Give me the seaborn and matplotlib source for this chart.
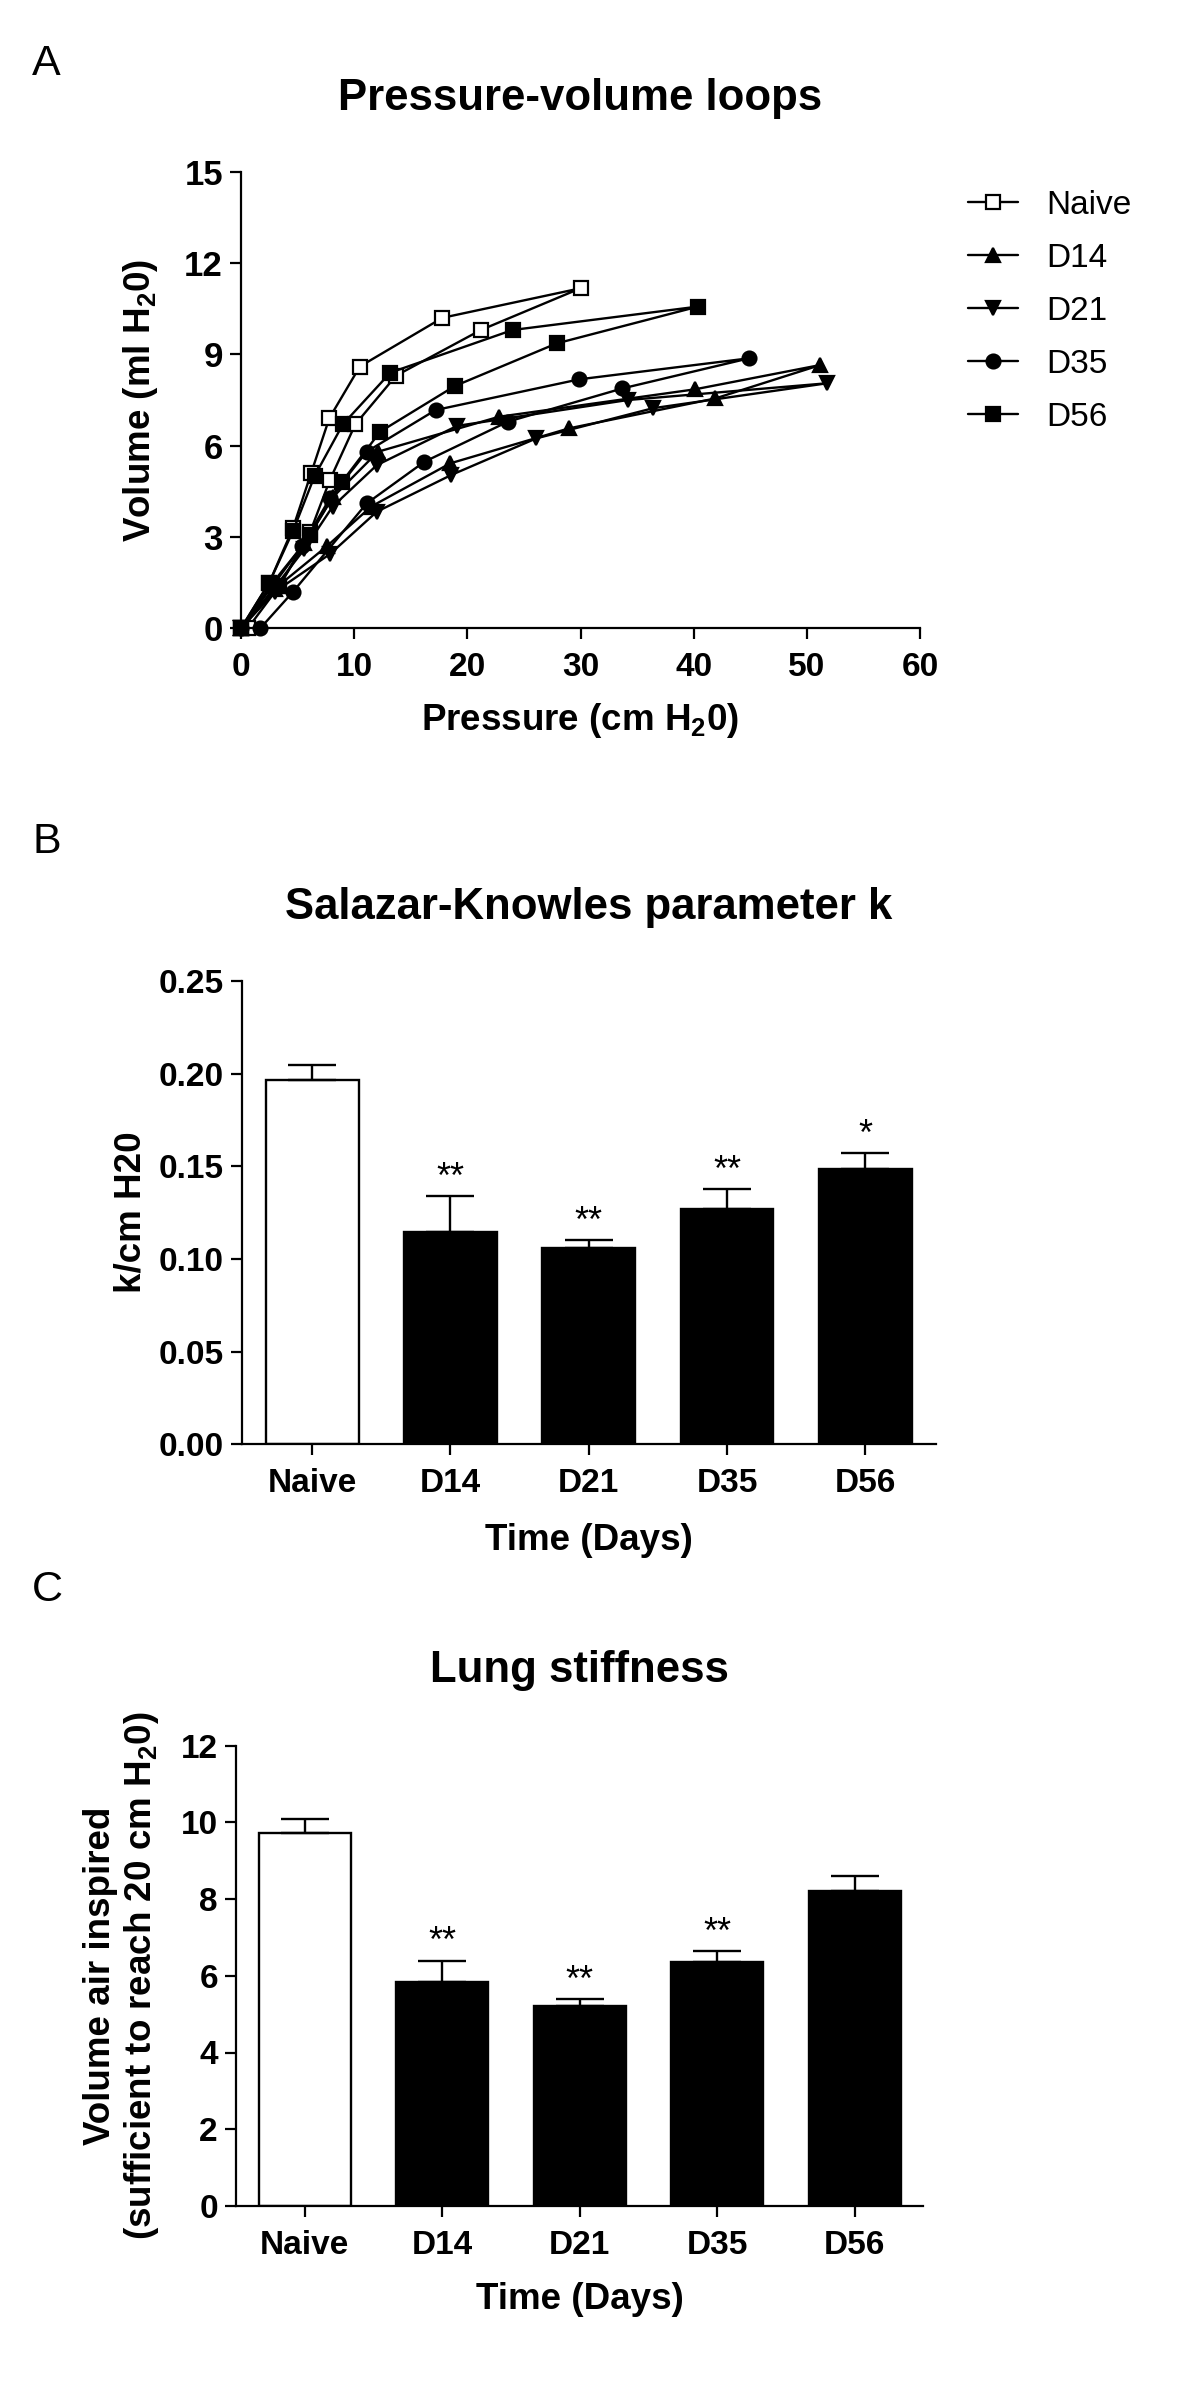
import numpy as np
import pandas as pd
import matplotlib
matplotlib.use("Agg")
import matplotlib.pyplot as plt
import seaborn as sns

# ---------------- Panel A: pressure-volume loops (path order: inflation then deflation)
naive_p = [0.6, 3.4, 6.1, 7.85, 10.1, 13.7, 21.2, 30.0, 17.8, 10.5, 7.8, 6.2, 4.6, 2.5, 0.0]
naive_v = [0.0, 1.4, 3.15, 4.87, 6.7, 8.3, 9.8, 11.17, 10.2, 8.6, 6.9, 5.1, 3.3, 1.5, 0.0]

d14_p = [0.0, 3.0, 7.6, 11.5, 18.5, 29.0, 41.9, 51.2, 40.1, 22.8, 12.1, 8.1, 5.6, 2.8, 0.0]
d14_v = [0.0, 1.3, 2.7, 4.0, 5.42, 6.57, 7.55, 8.65, 7.85, 6.95, 5.8, 4.3, 2.8, 1.4, 0.0]

d21_p = [0.0, 3.0, 7.9, 12.0, 18.6, 26.1, 36.4, 51.8, 34.2, 19.1, 12.0, 8.1, 5.6, 2.9, 0.0]
d21_v = [0.0, 1.2, 2.45, 3.83, 5.04, 6.24, 7.23, 8.05, 7.5, 6.65, 5.36, 4.0, 2.6, 1.3, 0.0]

d35_p = [1.7, 4.6, 11.1, 16.2, 23.6, 33.7, 44.9, 29.9, 17.2, 11.1, 7.85, 5.4, 2.6, 0.0]
d35_v = [0.0, 1.2, 4.1, 5.47, 6.79, 7.88, 8.87, 8.18, 7.17, 5.8, 4.27, 2.7, 1.4, 0.0]

d56_p = [0.0, 3.4, 6.1, 8.9, 12.3, 18.9, 27.9, 40.4, 24.0, 13.2, 9.0, 6.5, 4.6, 2.5, 0.0]
d56_v = [0.0, 1.4, 3.07, 4.8, 6.46, 7.96, 9.36, 10.57, 9.8, 8.4, 6.7, 5.0, 3.2, 1.5, 0.0]

loop_names = ["Naive", "D14", "D21", "D35", "D56"]

# ---------------- Panels B and C: bar data (mean + SEM)
groups = ["Naive", "D14", "D21", "D35", "D56"]
k_mean = [0.1966, 0.1145, 0.1057, 0.1271, 0.1485]
k_sem = [0.0081, 0.0194, 0.0046, 0.0106, 0.0087]
k_stars = ["", "**", "**", "**", "*"]

vol_mean = [9.73, 5.85, 5.21, 6.37, 8.20]
vol_sem = [0.35, 0.54, 0.18, 0.28, 0.39]
vol_stars = ["", "**", "**", "**", ""]

# ---------------- Style
sns.set_theme(style="ticks")
plt.rcParams["font.family"] = ["Liberation Sans", "DejaVu Sans"]
plt.rcParams["font.weight"] = "bold"
plt.rcParams["mathtext.fontset"] = "custom"
plt.rcParams["mathtext.rm"] = "Liberation Sans"
plt.rcParams["mathtext.bf"] = "Liberation Sans:bold"
plt.rcParams["axes.linewidth"] = 1.6
plt.rcParams["axes.edgecolor"] = "black"
plt.rcParams["text.color"] = "black"
plt.rcParams["axes.labelcolor"] = "black"
plt.rcParams["xtick.color"] = "black"
plt.rcParams["ytick.color"] = "black"
plt.rcParams["xtick.labelcolor"] = "black"
plt.rcParams["ytick.labelcolor"] = "black"
plt.rcParams["axes.titlecolor"] = "black"

W, H = 1200, 2389
fig = plt.figure(figsize=(W / 100, H / 100), dpi=100)


def px_axes(left, right, top, bottom):
    return fig.add_axes([left / W, 1 - bottom / H, (right - left) / W, (bottom - top) / H])


def style_axes(ax, ysize=24, xsize=24):
    sns.despine(ax=ax)
    ax.spines["left"].set_linewidth(1.6)
    ax.spines["bottom"].set_linewidth(1.6)
    ax.spines["left"].set_color("black")
    ax.spines["bottom"].set_color("black")
    ax.tick_params(axis="both", direction="out", length=8, width=1.6,
                   color="black", labelcolor="black")
    ax.tick_params(axis="y", labelsize=ysize, pad=5)
    ax.tick_params(axis="x", labelsize=xsize, pad=9)
    for lbl in ax.get_xticklabels() + ax.get_yticklabels():
        lbl.set_fontweight("bold")
    ax.set_facecolor("white")


LW = 1.7

# ---------------- Panel A
axA = px_axes(241, 920, 171.7, 628.3)
loops = [
    ("Naive", naive_p, naive_v, "s", "white", 10.5),
    ("D14", d14_p, d14_v, "^", "black", 10.5),
    ("D21", d21_p, d21_v, "v", "black", 10.5),
    ("D35", d35_p, d35_v, "o", "black", 10),
    ("D56", d56_p, d56_v, "s", "black", 10.5),
]
for name, px, vy, mk, fc, ms in loops:
    sns.lineplot(x=np.array(px), y=np.array(vy), sort=False, estimator=None, ax=axA,
                 color="black", linewidth=LW, marker=mk, markersize=ms,
                 markerfacecolor=fc, markeredgecolor="black", markeredgewidth=1.6,
                 label=name, clip_on=False)
axA.set_xlim(0, 60)
axA.set_ylim(0, 15)
axA.set_xticks(np.arange(0, 61, 10))
axA.set_yticks(np.arange(0, 16, 3))
style_axes(axA, ysize=25, xsize=24)
axA.set_title("Pressure-volume loops", fontsize=31.5, fontweight="bold", pad=44.6)
axA.set_xlabel(r"Pressure (cm H$_\mathbf{2}$0)", fontsize=26.5, fontweight="bold")
axA.set_ylabel(r"Volume (ml H$_\mathbf{2}$0)", fontsize=26.5, fontweight="bold")
axA.xaxis.set_label_coords(0.5, (628.3 - 701) / 456.6)
axA.yaxis.set_label_coords((160 - 241) / 679, 0.5)
handles, labels = axA.get_legend_handles_labels()
axA.legend(handles[:5], labels[:5], loc="upper left",
           bbox_to_anchor=(968 / W, 1 - 190 / H), bbox_transform=fig.transFigure,
           frameon=False, borderpad=0, borderaxespad=0, handlelength=1.5,
           handletextpad=0.86, labelspacing=0.66,
           prop={"size": 24, "weight": "normal"})

# ---------------- Bar panels
bar_palette = {"Naive": "white", "D14": "black", "D21": "black", "D35": "black", "D56": "black"}


def bar_panel(ax, means, sems, stars, ylim, yticks, yfmt):
    df = pd.DataFrame({"group": groups, "value": means})
    sns.barplot(data=df, x="group", y="value", hue="group", palette=bar_palette,
                order=groups, hue_order=groups, saturation=1, width=0.67,
                edgecolor="black", linewidth=LW, errorbar=None, legend=False, ax=ax)
    xs = np.arange(len(groups))
    ax.errorbar(xs, means, yerr=[np.zeros(len(means)), sems], fmt="none",
                ecolor="black", elinewidth=LW, capsize=17, capthick=LW, zorder=3)
    for x, m, s, st in zip(xs, means, sems, stars):
        if st:
            ax.annotate(st, xy=(x, m + s), xytext=(0, 6), textcoords="offset points",
                        ha="center", va="baseline", fontsize=26, fontweight="normal",
                        color="black")
    ax.set_xlim(-0.51, 4.51)
    ax.set_ylim(*ylim)
    ax.set_yticks(yticks)
    ax.set_yticklabels([yfmt.format(t) for t in yticks])


axB = px_axes(241.7, 935.7, 981.0, 1444.2)
bar_panel(axB, k_mean, k_sem, k_stars, (0, 0.25), np.arange(0, 0.2501, 0.05), "{:.2f}")
style_axes(axB, ysize=24, xsize=24)
axB.set_title("Salazar-Knowles parameter k", fontsize=31.5, fontweight="bold", pad=45)
axB.set_xlabel("Time (Days)", fontsize=26.5, fontweight="bold")
axB.set_ylabel("k/cm H20", fontsize=26.5, fontweight="bold")
axB.xaxis.set_label_coords(0.5, (1444.2 - 1523) / 463.2)
axB.yaxis.set_label_coords((148.6 - 241.7) / 694, 0.5)

axC = px_axes(236, 923.3, 1745.5, 2206.0)
bar_panel(axC, vol_mean, vol_sem, vol_stars, (0, 12), np.arange(0, 13, 2), "{:.0f}")
axC.set_xlim(-0.5, 4.5)
style_axes(axC, ysize=24, xsize=24)
axC.set_title("Lung stiffness", fontsize=31.5, fontweight="bold", pad=46)
axC.set_xlabel("Time (Days)", fontsize=26.5, fontweight="bold")
axC.set_ylabel("Volume air inspired\n" + r"(sufficient to reach 20 cm H$_\mathbf{2}$0)",
               fontsize=26.5, fontweight="bold", linespacing=1.15)
axC.xaxis.set_label_coords(0.5, (2206 - 2282) / 460.5)
axC.yaxis.set_label_coords((161 - 236) / 687.3, 0.5)

# ---------------- Panel letters
for letter, base in [("A", 75), ("B", 853), ("C", 1601)]:
    fig.text(32 / W, 1 - base / H, letter, fontsize=31, fontweight="normal",
             ha="left", va="baseline", color="black")

fig.savefig("out.png", dpi=100, facecolor="white")
